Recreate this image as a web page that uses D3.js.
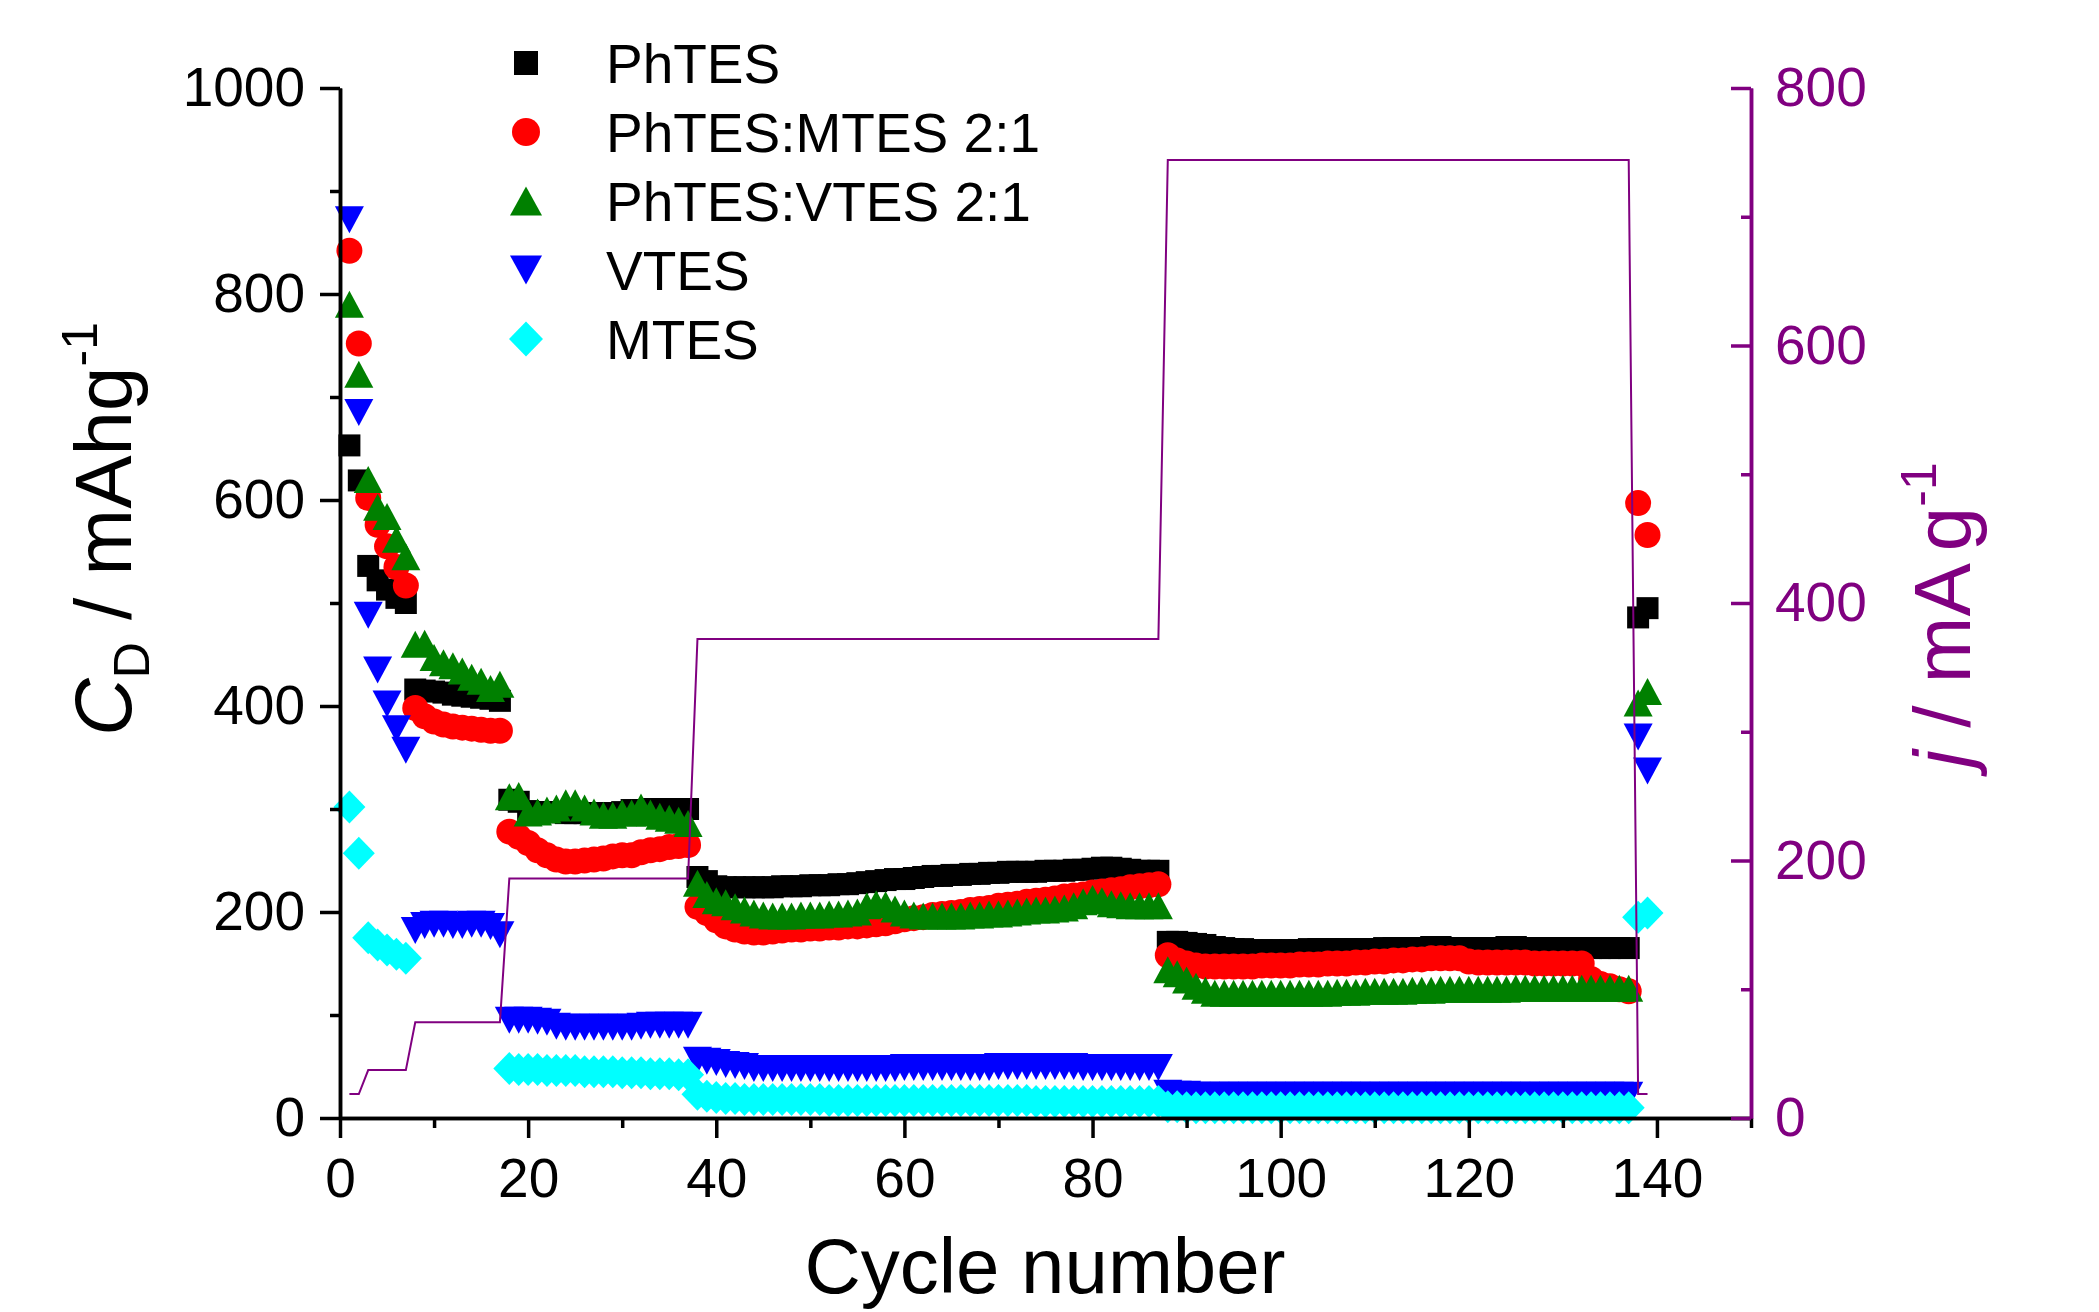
<!DOCTYPE html>
<html>
<head>
<meta charset="utf-8">
<title>Cycling at stepped current density</title>
<script src="https://cdn.jsdelivr.net/npm/d3@7"></script>
<style>
  html, body { margin: 0; padding: 0; background: #fff; }
  svg text { font-family: "Liberation Sans", Arial, sans-serif; white-space: pre; }
</style>
</head>
<body>
<svg id="chart" width="2099" height="1312"></svg>
<script>
// x categories: cycle 1..139
const cycles = d3.range(1, 140);

// Discharge capacity (mAh/g), one value per cycle, null = no point
const phtes = [
    653, 619, 536, 522, 513, 505, 500,
    416, 415, 414, 413, 411, 410, 409, 408, 407, 405,
    309, 307, 298, 297, 297, 297, 296, 296, 296, 296, 296, 296, 297, 299, 299, 300, 300, 300, 300, 300,
    234, 230, 225, 224, 224, 224, 224, 224, 224, 225,
    225, 225, 226, 226, 226, 227, 227, 228, 229, 230,
    231, 232, 232, 233, 234, 235, 235, 236, 236, 237,
    237, 238, 238, 239, 239, 239, 239, 240, 240, 240,
    241, 241, 242, 243, 243, 242, 241, 240, 240, 240,
    171, 171, 170, 169, 168, 166, 165, 164, 164, 163,
    163, 163, 163, 163, 163, 164, 164, 164, 164, 164,
    164, 164, 164, 165, 165, 165, 165, 165, 166, 166,
    165, 165, 165, 165, 165, 165, 166, 166, 165, 165,
    165, 165, 165, 165, 165, 165, 165, 165, 165, 165,
    486, 495
];

const phtesMtes = [
    842, 752, 602, 576, 555, 535, 517,
    398, 390, 385, 382, 380, 379, 378, 377, 376, 376,
    278, 273, 267, 260, 255, 251, 249, 249, 250, 251, 252, 254, 255, 255, 258, 260, 261, 263, 264, 265,
    205, 199, 192, 186, 183, 181, 180, 180, 181, 182,
    183, 183, 184, 184, 185, 185, 186, 186, 187, 188,
    189, 191, 193, 194, 195, 197, 198, 199, 200, 202,
    203, 204, 206, 207, 208, 210, 211, 212, 213, 215,
    216, 217, 219, 220, 221, 222, 224, 225, 226, 227,
    158, 153, 150, 148, 147, 147, 147, 147, 147, 147,
    148, 148, 148, 148, 149, 149, 149, 150, 150, 150,
    151, 151, 152, 152, 153, 153, 154, 154, 155, 155,
    155, 155, 152, 151, 151, 151, 151, 151, 151, 150,
    150, 150, 150, 150, 150, 135, 130, 128, 125, 123,
    597, 566
];

const phtesVtes = [
    790, 722, 620, 593, 584, 562, 545,
    460, 461, 447, 442, 439, 434, 428, 424, 417, 421,
    312, 313, 296, 297, 299, 301, 306, 306, 301, 297, 294, 294, 296, 296, 302, 296, 293, 291, 289, 286,
    228, 217, 211, 209, 205, 202, 199, 197, 196, 196,
    196, 197, 197, 197, 198, 198, 199, 200, 206, 208,
    207, 203, 199, 197, 196, 196, 196, 196, 196, 197,
    197, 198, 198, 199, 200, 201, 202, 202, 203, 204,
    206, 210, 213, 211, 208, 207, 206, 206, 206, 206,
    144, 140, 134, 128, 124, 121, 121, 121, 121, 121,
    121, 121, 121, 121, 121, 121, 121, 121, 122, 122,
    122, 123, 123, 123, 123, 123, 124, 124, 124, 125,
    125, 125, 125, 125, 125, 125, 125, 126, 126, 126,
    126, 126, 126, 126, 126, 126, 126, 126, 126, 126,
    403, 414
];

const vtes = [
    872, 685, 488, 435, 402, 378, 357,
    182, 187, 188, 188, 187, 187, 188, 188, 186, 178,
    95, 95, 95, 94, 93, 89, 88, 88, 88, 88, 88, 88, 88, 88, 89, 90, 90, 90, 90, 90,
    56, 55, 54, 52, 51, 50, 48, 48, 48, 48,
    48, 48, 48, 48, 48, 48, 48, 48, 48, 48,
    48, 48, 49, 49, 49, 49, 49, 49, 49, 49,
    49, 49, 50, 50, 50, 50, 50, 50, 50, 50,
    50, 49, 49, 49, 49, 49, 49, 49, 49, 49,
    24, 23, 23, 22, 22, 22, 22, 22, 22, 22,
    22, 22, 22, 22, 22, 22, 22, 22, 22, 22,
    22, 22, 22, 22, 22, 22, 22, 22, 22, 22,
    22, 22, 22, 22, 22, 22, 22, 22, 22, 22,
    22, 22, 22, 22, 22, 22, 22, 22, 22, 22,
    370, 337
];

const mtes = [
    302, 257, 175, 168, 163, 159, 155,
    null, null, null, null, null, null, null, null, null, null,
    48, 47, 47, 47, 46, 46, 46, 46, 45, 45, 45, 45, 44, 44, 44, 43, 43, 43, 42, 42,
    23, 21, 20, 19, 19, 18, 18, 18, 18, 18,
    18, 18, 18, 18, 17, 17, 17, 17, 17, 17,
    17, 17, 17, 17, 17, 17, 17, 17, 17, 17,
    17, 17, 17, 17, 17, 17, 16, 16, 16, 16,
    16, 16, 16, 16, 16, 16, 16, 16, 16, 16,
    11, 11, 10, 10, 10, 10, 10, 10, 10, 10,
    10, 10, 10, 10, 10, 10, 10, 10, 10, 10,
    10, 10, 10, 10, 10, 10, 10, 10, 10, 10,
    10, 10, 10, 10, 10, 10, 10, 10, 10, 10,
    10, 10, 10, 10, 10, 10, 10, 10, 10, 10,
    195, 199
];

// Current density steps, mA/g (right axis)
const stepFrom = [1, 3, 8, 18, 38, 88, 138];
const stepTo = [2, 7, 17, 37, 87, 137, 139];
const stepJ = [18.6, 37.2, 74.4, 186, 372, 744, 18.6];

// tick labels
const xTicks = [0, 20, 40, 60, 80, 100, 120, 140];
const xMinor = [10, 30, 50, 70, 90, 110, 130, 150];
const leftTicks = [0, 200, 400, 600, 800, 1000];
const leftMinor = [100, 300, 500, 700, 900];
const rightTicks = [0, 200, 400, 600, 800];
const rightMinor = [100, 300, 500, 700];

const seriesNames = ["PhTES", "PhTES:MTES 2:1", "PhTES:VTES 2:1", "VTES", "MTES"];
const seriesValues = [phtes, phtesMtes, phtesVtes, vtes, mtes];
const seriesColors = ["#000000", "#ff0000", "#008000", "#0000ff", "#00ffff"];
const seriesShapes = ["square", "circle", "up", "down", "diamond"];

const PURPLE = "#800080";
const FONT = 55;

const svg = d3.select("#chart");
svg.append("rect").attr("width", 2099).attr("height", 1312).attr("fill", "#fff");

const x = d3.scaleLinear().domain([0, 150]).range([340, 1751]);
const yL = d3.scaleLinear().domain([0, 1000]).range([1118, 88]);
const yR = d3.scaleLinear().domain([0, 800]).range([1118, 88]);

/**
 * Marker outline centred on 0,0
 * @param {string} shape square | circle | up | down | diamond
 * @param {number} w width in px
 * @param {number} h height in px
 */
function markerPath(shape, w, h) {
    const p = d3.path();
    const a = w / 2, b = h / 2;
    if (shape === "square") {
        p.rect(-a, -b, w, h);
    } else if (shape === "circle") {
        p.moveTo(a, 0);
        p.arc(0, 0, a, 0, 2 * Math.PI);
    } else if (shape === "up") {
        p.moveTo(0, -b); p.lineTo(a, b); p.lineTo(-a, b); p.closePath();
    } else if (shape === "down") {
        p.moveTo(-a, -b); p.lineTo(a, -b); p.lineTo(0, b); p.closePath();
    } else {
        p.moveTo(0, -b); p.lineTo(a, 0); p.lineTo(0, b); p.lineTo(-a, 0); p.closePath();
    }
    return p.toString();
}

// marker size in the plot and in the legend
const plotSize = { square: [22, 22], circle: [26, 26], up: [29, 27], down: [29, 27], diamond: [32, 33] };
const legendSize = { square: [24, 24], circle: [28, 28], up: [32, 29], down: [32, 29], diamond: [34, 35] };

/*
 * Scatter series
 */
seriesValues.forEach((values, k) => {
    const shape = seriesShapes[k];
    const pts = cycles.map((c, i) => ({ c: c, v: values[i] })).filter(d => d.v != null);
    svg.append("g")
        .attr("class", "series")
        .selectAll("path")
        .data(pts)
        .join("path")
        .attr("transform", d => `translate(${x(d.c)},${yL(d.v)})`)
        .attr("d", markerPath(shape, plotSize[shape][0], plotSize[shape][1]))
        .attr("fill", seriesColors[k]);
});

/*
 * Current density line (right axis)
 */
const jPts = [];
stepFrom.forEach((s, i) => {
    jPts.push([s, stepJ[i]]);
    jPts.push([stepTo[i], stepJ[i]]);
});
svg.append("path")
    .datum(jPts)
    .attr("fill", "none")
    .attr("stroke", PURPLE)
    .attr("stroke-width", 2)
    .attr("d", d3.line().x(d => x(d[0])).y(d => yR(d[1])));

/*
 * Axes
 */
function styleAxis(g, color) {
    g.selectAll(".domain").attr("stroke", color).attr("stroke-width", 3.5);
    g.selectAll(".tick line").attr("stroke", color).attr("stroke-width", 3.5);
    g.selectAll(".tick text").attr("fill", color).attr("font-size", FONT)
        .attr("font-family", "Liberation Sans, Arial, sans-serif");
}

// bottom
svg.append("g").attr("transform", "translate(0,1118)")
    .call(d3.axisBottom(x).tickValues(xMinor).tickSize(10).tickSizeOuter(0).tickFormat(""))
    .call(g => styleAxis(g, "#000"));
svg.append("g").attr("transform", "translate(0,1118)")
    .call(d3.axisBottom(x).tickValues(xTicks).tickSize(20).tickSizeOuter(0).tickPadding(20).tickFormat(d3.format("d")))
    .call(g => styleAxis(g, "#000"));

// left
svg.append("g").attr("transform", "translate(340,0)")
    .call(d3.axisLeft(yL).tickValues(leftMinor).tickSize(10).tickSizeOuter(0).tickFormat(""))
    .call(g => styleAxis(g, "#000"));
svg.append("g").attr("transform", "translate(340,0)")
    .call(d3.axisLeft(yL).tickValues(leftTicks).tickSize(20).tickSizeOuter(0).tickPadding(15).tickFormat(d3.format("d")))
    .call(g => styleAxis(g, "#000"));

// right, ticks pointing inward
svg.append("g").attr("transform", "translate(1751,0)")
    .call(d3.axisRight(yR).tickValues(rightMinor).tickSizeInner(-10).tickSizeOuter(0).tickFormat(""))
    .call(g => styleAxis(g, PURPLE));
svg.append("g").attr("transform", "translate(1751,0)")
    .call(d3.axisRight(yR).tickValues(rightTicks).tickSizeInner(-20).tickSizeOuter(0).tickPadding(24).tickFormat(d3.format("d")))
    .call(g => styleAxis(g, PURPLE));

/*
 * Axis titles
 */
svg.append("text")
    .attr("x", 1045).attr("y", 1293)
    .attr("text-anchor", "middle")
    .attr("font-size", 78)
    .text("Cycle number");

const yTitle = svg.append("text")
    .attr("transform", "translate(131,529) rotate(-90)")
    .attr("text-anchor", "middle")
    .attr("font-size", 80);
yTitle.append("tspan").attr("font-style", "italic").text("C");
yTitle.append("tspan").attr("font-size", 50).attr("dy", 18).text("D");
yTitle.append("tspan").attr("dy", -18).text(" / mAhg");
yTitle.append("tspan").attr("font-size", 50).attr("dy", -34).text("-1");

const jTitle = svg.append("text")
    .attr("transform", "translate(1970,615) rotate(-90)")
    .attr("text-anchor", "middle")
    .attr("font-size", 80)
    .attr("fill", PURPLE);
jTitle.append("tspan").attr("font-style", "italic").text("j");
jTitle.append("tspan").text(" / mA");
jTitle.append("tspan").attr("dx", 12).text("g");
jTitle.append("tspan").attr("font-size", 50).attr("dy", -34).text("-1");

/*
 * Legend
 */
const legend = svg.append("g").attr("class", "legend");
seriesNames.forEach((name, k) => {
    const shape = seriesShapes[k];
    const cy = 63 + k * 69;
    legend.append("path")
        .attr("transform", `translate(526,${cy})`)
        .attr("d", markerPath(shape, legendSize[shape][0], legendSize[shape][1]))
        .attr("fill", seriesColors[k]);
    legend.append("text")
        .attr("x", 606).attr("y", cy)
        .attr("dy", "0.36em")
        .attr("font-size", FONT)
        .text(name);
});
</script>
</body>
</html>
